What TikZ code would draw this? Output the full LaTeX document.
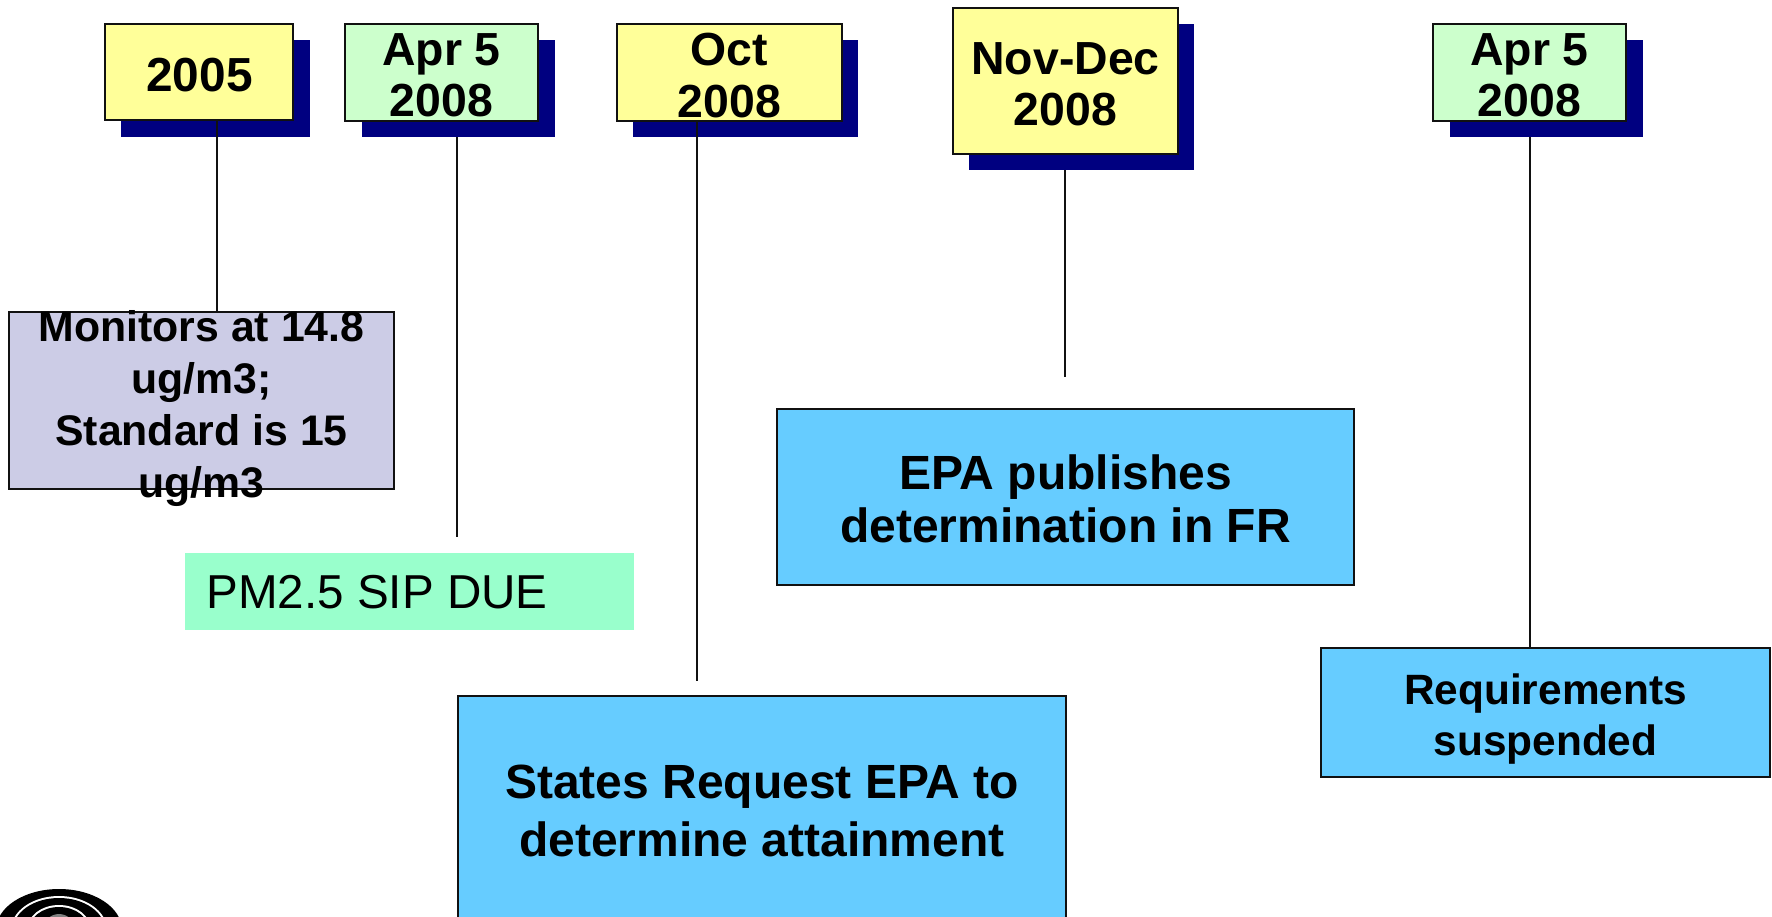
\documentclass[tikz,border=0pt]{standalone}
\usepackage{fontspec}
\setmainfont{Liberation Sans}
\definecolor{shadowblue}{HTML}{000080}
\definecolor{noteyellow}{HTML}{FFFF99}
\definecolor{notegreen}{HTML}{CCFFCC}
\definecolor{notelav}{HTML}{CCCCE6}
\definecolor{noteblue}{HTML}{66CCFF}
\definecolor{duegreen}{HTML}{99FFCC}
\definecolor{edge}{HTML}{111111}
\tikzset{
  boxbase/.style={rectangle,inner sep=0pt,outer sep=0pt},
  shadowbox/.style={boxbase,fill=shadowblue},
  framebox/.style={boxbase,draw=edge,line width=1.3pt},
  lab/.style={inner sep=0pt,align=center,font=\fontsize{23.2}{25.7}\selectfont\bfseries,text=black},
  conn/.style={draw=edge,line width=0.7pt},
}
\begin{document}
\begin{tikzpicture}[x=0.5pt,y=-0.5pt]
\clip (0,0) rectangle (1772,916);
\fill[white] (0,0) rectangle (1772,916);
% logo
\fill[black] (59,930) ellipse [x radius=63,y radius=41];
\fill[white] (59,930) ellipse [x radius=48,y radius=34];
\fill[black] (59,930) ellipse [x radius=46,y radius=32];
\fill[white] (59,930) ellipse [x radius=32,y radius=25];
\fill[black] (59,930) ellipse [x radius=30,y radius=23];
\fill[gray] (59,930) ellipse [x radius=16,y radius=16];
% shadows
\node[shadowbox,minimum width=94.5pt,minimum height=48.5pt] (s1) at (215.5,88.5) {};
\node[shadowbox,minimum width=96.5pt,minimum height=48.5pt] (s2) at (458,88.5) {};
\node[shadowbox,minimum width=112.5pt,minimum height=48.5pt] (s3) at (745.5,88.5) {};
\node[shadowbox,minimum width=112.5pt,minimum height=73pt] (s4) at (1081.5,97) {};
\node[shadowbox,minimum width=96.5pt,minimum height=48.5pt] (s5) at (1546,88.5) {};
% free ends of connectors
\coordinate (e1) at (217,312);
\coordinate (e2) at (457,537);
\coordinate (e3) at (697,681);
\coordinate (e4) at (1065,377);
\coordinate (e5) at (1530,648);
% header boxes
\node[framebox,fill=noteyellow,minimum width=94pt,minimum height=48pt] (y1) at (199,72) {};
\node[framebox,fill=notegreen,minimum width=96.5pt,minimum height=48.5pt] (g1) at (441.5,72.5) {};
\node[framebox,fill=noteyellow,minimum width=112.5pt,minimum height=48.5pt] (y2) at (729.5,72.5) {};
\node[framebox,fill=noteyellow,minimum width=112.5pt,minimum height=73pt] (y3) at (1065.5,81) {};
\node[framebox,fill=notegreen,minimum width=96.5pt,minimum height=48.5pt] (g2) at (1529.5,72.5) {};
% connectors
\draw[conn] (y1.south -| e1) -- (e1);
\draw[conn] (s2.south -| e2) -- (e2);
\draw[conn] (y2.south -| e3) -- (e3);
\draw[conn] (s4.south -| e4) -- (e4);
\draw[conn] (s5.south -| e5) -- (e5);
% lower boxes
\node[framebox,fill=notelav,minimum width=192.5pt,minimum height=88.5pt] (m) at (201.5,400.5) {};
\node[boxbase,fill=duegreen,minimum width=224.5pt,minimum height=38.5pt] (d) at (409.5,591.5) {};
\node[framebox,fill=noteblue,minimum width=288.5pt,minimum height=88pt] (p) at (1065.5,497) {};
\node[framebox,fill=noteblue,minimum width=304pt,minimum height=120pt] (r) at (762,816) {};
\node[framebox,fill=noteblue,minimum width=224.5pt,minimum height=64.5pt] (q) at (1545.5,712.5) {};
% labels
\node[lab,font=\fontsize{23.9}{26}\selectfont\bfseries] (ly1) at (199.5,75.5) {2005};
\node[lab] (lg1) at (441.5,75.5) {Apr 5\\2008};
\node[lab] (ly2) at (729.5,75.5) {Oct\\2008};
\node[lab] (ly3) at (1065.5,84) {Nov-Dec\\2008};
\node[lab] (lg2) at (1529.5,75.5) {Apr 5\\2008};
\node[lab,font=\fontsize{21.4}{26}\selectfont\bfseries] (lm) at (201.5,408.5) {Monitors at 14.8\\ug/m3;\\Standard is 15\\ug/m3};
\node[lab,font=\fontsize{23.8}{26}\selectfont,anchor=west] (ld) at (206,592) {PM2.5 SIP DUE};
\node[lab,font=\fontsize{24}{26.5}\selectfont\bfseries] (lp) at (1065.5,499) {EPA publishes\\determination in FR};
\node[lab,font=\fontsize{24}{29.4}\selectfont\bfseries] (lr) at (762,811) {States Request EPA to\\determine attainment};
\node[lab,font=\fontsize{21.2}{25.5}\selectfont\bfseries] (lq) at (1545.5,719) {Requirements\\suspended};
\end{tikzpicture}
\end{document}
